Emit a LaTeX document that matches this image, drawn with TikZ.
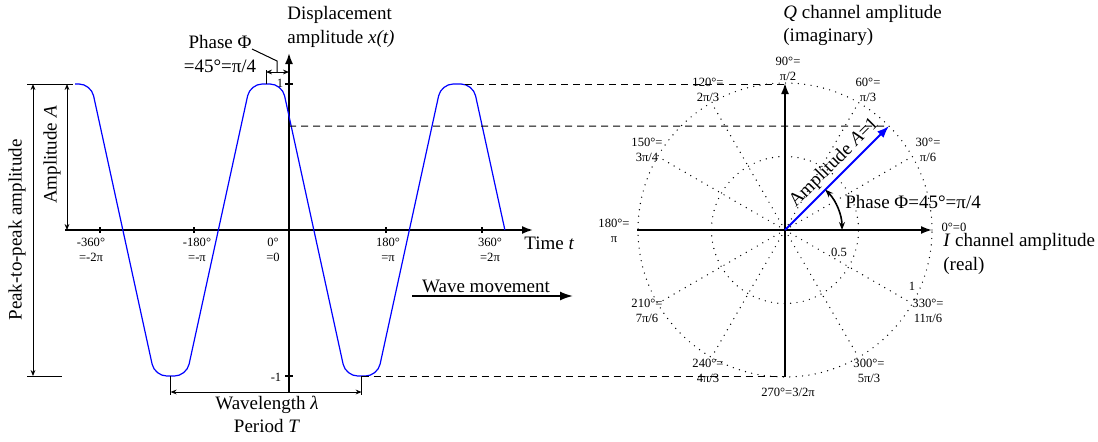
\documentclass[tikz,border=0pt]{standalone}
\usepackage{fontspec}
\setmainfont{Liberation Serif}
\usetikzlibrary{arrows.meta, positioning, calc}
\tikzset{
  lbl/.style={font=\fontsize{9.5}{11.7}\selectfont, inner sep=0pt, align=center},
  ticklbl/.style={font=\fontsize{6.3}{7.5}\selectfont, inner sep=0pt, align=center},
  axisarr/.style={
    -{Latex[length=5.5pt,width=4pt]},
    line width=0.9pt
  },
  bigarr/.style={
    -{Latex[length=6.5pt,width=4.5pt]},
    line width=0.9pt
  },
  vecarr/.style={
    -{Latex[length=6pt,width=4.5pt]},
    line width=1pt, draw=blue
  },
  dimarr/.style={
    {Stealth[length=3pt,width=2.4pt]}-{Stealth[length=3pt,width=2.4pt]},
    line width=0.5pt
  },
  phasearr/.style={
    {Stealth[length=4pt,width=3pt]}-{Stealth[length=4pt,width=3pt]},
    line width=0.8pt
  },
  helpline/.style={line width=0.5pt},
  tickline/.style={line width=0.6pt},
  guide/.style={dashed, dash pattern=on 3.5pt off 2.5pt, line width=0.5pt},
  gridline/.style={line width=0.7pt, line cap=round, dash pattern=on 0pt off 3.2pt},
  wave/.style={draw=blue, line width=0.6pt, rounded corners=6pt}
}

\begin{document}
\begin{tikzpicture}[x=0.5pt, y=0.5pt]
  \useasboundingbox (0,0) rectangle (1098,441);
  % time domain
  \coordinate (O)      at (289,211);
  \coordinate (tstart) at (65,211);
  \coordinate (tend)   at (533,211);
  \coordinate (xbot)   at (289,49);
  \coordinate (xtop)   at (289,388);
  \draw[axisarr] (tstart) -- (tend);
  \draw[axisarr] (xbot) -- (xtop);
  \foreach \x in {100,194,386,482} \draw[tickline] (\x,208) -- (\x,214);
  \foreach \y in {357,65} \draw[tickline] (285,\y) -- (293,\y);
  \node[ticklbl] (one)    at (280,358) {1};
  \node[ticklbl] (negone) at (276,64)  {-1};
  \foreach \x/\t [count=\i] in {91/{-360°\\=-2π}, 197/{-180°\\=-π}, 273/{0°\\=0}, 388/{180°\\=π}, 490/{360°\\=2π}}
    \node[ticklbl] (deg\i) at (\x,191) {\t};
  \draw[wave] (75,357) -- (91,357) -- (154.7,65) -- (186.5,65) -- (250.2,357) -- (282,357)
    -- (345.7,65) -- (377.5,65) -- (441.2,357) -- (473,357) -- (504.9,211);
  \coordinate (pkL) at (75,357);   \coordinate (pkM) at (266,357); \coordinate (pkR) at (465,357);
  \coordinate (trL) at (170.6,65); \coordinate (trR) at (361.6,65);
  \node[lbl, anchor=west, align=left] (disp) at (287,414) {Displacement\\amplitude \textit{x(t)}};
  \node[lbl, anchor=west] (time) at (524,198) {Time \textit{t}};
  % dimensions
  \draw[helpline] (27,357) -- (73,357);
  \draw[helpline] (27,65) -- (62,65);
  \draw[dimarr] (33,357) -- (33,65);
  \draw[dimarr] (67,357) -- (67,211);
  \node[lbl, rotate=90] (ptp) at (17,211) {Peak-to-peak amplitude};
  \node[lbl, rotate=90] (amp) at (52,286) {Amplitude \textit{A}};
  \draw[helpline] (pkM) -- ++(0,14);
  \draw[dimarr] (266,369) coordinate (phL) -- (289,369);
  \node[lbl] (phs) at (220,387) {Phase Φ\\=45°=π/4};
  \coordinate (lead) at (252,392);
  \draw[helpline] (277,369) -- (277,380) -- (lead);
  \draw[helpline] (trL) -- ++(0,-19);
  \draw[helpline] (trR) -- ++(0,-19);
  \draw[dimarr] (170.6,49) -- (361.6,49);
  \node[lbl] (wl) at (267,26.5) {Wavelength \textit{λ}\\Period \textit{T}};
  \coordinate (wmL) at (412,145); \coordinate (wmR) at (573,145);
  \draw[bigarr] (wmL) -- node[lbl, above=1pt, pos=0.46] (wm) {Wave movement} (wmR);
  % phasor
  \coordinate (C) at (785,211);
  \draw[gridline] (C) circle[radius=147];
  \draw[gridline] (C) circle[radius=73.5];
  \foreach \a in {30,60,120,150,210,240,300,330} \draw[gridline] (C) -- ++(\a:147);
  \draw[axisarr] (637,211) -- (932,211);
  \draw[axisarr] (785,64) -- (785,358);
  \draw[vecarr] (C) -- node[lbl, text=black, sloped, above=1.5pt, pos=0.56] (avec) {Amplitude \textit{A}=1} ++(45:147) coordinate (tip);
  \draw[phasearr] ($(C)+(0:57)$) arc[start angle=0, end angle=45, radius=57];
  \node[lbl, anchor=west] (phpol) at (845,239) {Phase Φ=45°=π/4};
  \foreach \px/\py/\t [count=\i] in {788/372.5/{90°=\\π/2}, 708/351.5/{120°=\\2π/3}, 868/351.5/{60°=\\π/3},
      928/291/{30°=\\π/6}, 647/291/{150°=\\3π/4}, 614/210.5/{180°=\\π}, 647/130/{210°=\\7π/6},
      928/130/{330°=\\11π/6}, 708/70.5/{240°=\\4π/3}, 869/70.5/{300°=\\5π/3}}
    \node[ticklbl] (ang\i) at (\px,\py) {\t};
  \node[ticklbl] (ang270) at (788,49)  {270°=3/2π};
  \node[ticklbl] (ang0)   at (954,214) {0°=0};
  \node[ticklbl] (rhalf)  at (839,189) {0.5};
  \node[ticklbl] (rone)   at (912,155) {1};
  \node[lbl, anchor=west, align=left] (ich) at (943,187) {\textit{I} channel amplitude\\(real)};
  \node[lbl, anchor=west, align=left] (qch) at (783,415.5) {\textit{Q} channel amplitude\\(imaginary)};
  % guides
  \draw[guide] (pkR) -- (785,357);
  \draw[guide] (289,315) -- (tip);
  \draw[guide] (trR) -- (785,65);
\end{tikzpicture}
\end{document}
